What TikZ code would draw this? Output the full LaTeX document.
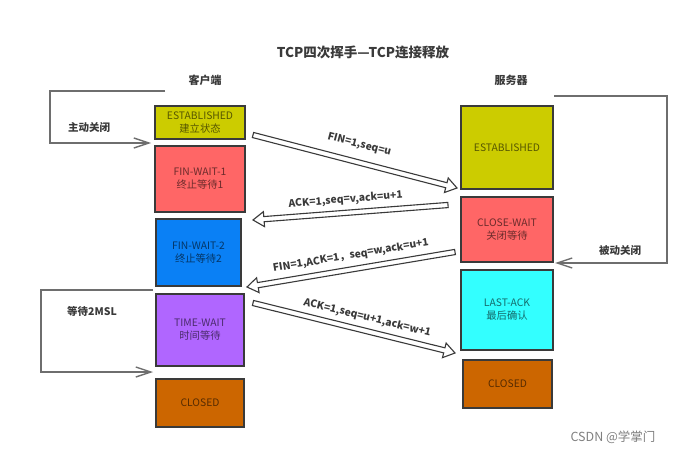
\documentclass[tikz,border=0pt]{standalone}
\usepackage{fontspec}
\setmainfont{Noto Sans CJK SC}
\usetikzlibrary{calc,arrows.meta}
\definecolor{cYel}{HTML}{CCCC00}
\definecolor{cRed}{HTML}{FF6666}
\definecolor{cBlue}{HTML}{0A80F5}
\definecolor{cPurp}{HTML}{B066FF}
\definecolor{cOrg}{HTML}{CC6600}
\definecolor{cCyan}{HTML}{33FFFF}
\definecolor{edge}{HTML}{3A3A3A}
\definecolor{brk}{HTML}{6E6E6E}
\tikzset{
  state/.style={draw=edge, line width=1.4pt, fill=#1, inner sep=0pt, align=center,
    text=#1!42!black, font=\fontsize{10.3}{13}\selectfont},
  harrow/.style={draw=edge, line width=1.1pt, fill=white, line join=miter},
  bracket/.style={draw=brk, line width=2pt, -{Straight Barb[length=15pt,width=10pt,line width=1.4pt]}},
  msg/.style={font=\bfseries\fontsize{10.3}{12}\selectfont, text=edge, sloped, inner sep=0pt},
  side/.style={font=\bfseries\fontsize{10.5}{12}\selectfont, text=edge},
}
\newcommand\hollowarrow[2]{%
  \coordinate (#1H) at ($(#2)!11pt!(#1)$);
  \draw[harrow] ($(#1)!2.6pt!90:(#2)$) -- ($(#1H)!2.6pt!90:(#2)$) -- ($(#1H)!7.5pt!90:(#2)$)
    -- (#2) -- ($(#1H)!7.5pt!-90:(#2)$) -- ($(#1H)!2.6pt!-90:(#2)$) -- ($(#1)!2.6pt!-90:(#2)$) -- cycle;
}
\begin{document}
\begin{tikzpicture}[x=1pt,y=-1pt]
\useasboundingbox (0,0) rectangle (678,452);
\fill[white] (0,0) rectangle (678,452);

% title and column headers
\node[font=\bfseries\fontsize{13.5}{15}\selectfont, text=edge] (title) at (363,52) {TCP四次挥手—TCP连接释放};
\node[font=\bfseries\fontsize{11}{13}\selectfont, text=edge] (client) at (205,80) {客户端};
\node[font=\bfseries\fontsize{11}{13}\selectfont, text=edge] (server) at (511,80) {服务器};

% client states
\node[state=cYel, minimum width=90pt, minimum height=33pt] (c1) at (200,122.5) {ESTABLISHED\\建立状态};
\node[state=cRed, minimum width=90pt, minimum height=66pt] (c2) at (200,179) {FIN-WAIT-1\\终止等待1};
\node[state=cBlue, minimum width=85pt, minimum height=67pt] (c3) at (198.5,252.5) {FIN-WAIT-2\\终止等待2};
\node[state=cPurp, minimum width=88pt, minimum height=72pt] (c4) at (200,330) {TIME-WAIT\\时间等待};
\node[state=cOrg, minimum width=88pt, minimum height=48pt] (c5) at (200,403) {CLOSED};

% server states
\node[state=cYel, minimum width=92pt, minimum height=83pt] (s1) at (507,147.5) {ESTABLISHED};
\node[state=cRed, minimum width=92pt, minimum height=65pt] (s2) at (507,229.5) {CLOSE-WAIT\\关闭等待};
\node[state=cCyan, minimum width=92pt, minimum height=80pt] (s3) at (507,310) {LAST-ACK\\最后确认};
\node[state=cOrg, minimum width=89pt, minimum height=48pt] (s4) at (507.5,384) {CLOSED};

% brackets
\coordinate (b1s) at (165,91);
\coordinate (b1c1) at (50,91);
\coordinate (b1c2) at (50,143);
\coordinate (b1e) at (151,143);
\draw[bracket] (b1s) -- (b1c1) -- (b1c2) -- (b1e);
\node[side] (lab1) at (89,127) {主动关闭};

\coordinate (b2s) at (554,96);
\coordinate (b2c1) at (667,96);
\coordinate (b2c2) at (667,263);
\coordinate (b2e) at (555,263);
\draw[bracket] (b2s) -- (b2c1) -- (b2c2) -- (b2e);
\node[side] (lab2) at (620,250) {被动关闭};

\coordinate (b3s) at (153,290);
\coordinate (b3c1) at (41,290);
\coordinate (b3c2) at (41,372);
\coordinate (b3e) at (153,372);
\draw[bracket] (b3s) -- (b3c1) -- (b3c2) -- (b3e);
\node[side] (lab3) at (92,311) {等待2MSL};

% messages
\coordinate (m1a) at (253,135);  \coordinate (m1b) at (457,188);
\coordinate (m2a) at (448,205);  \coordinate (m2b) at (253,220);
\coordinate (m3a) at (455,252);  \coordinate (m3b) at (247,287);
\coordinate (m4a) at (253,303);  \coordinate (m4b) at (455,353);
\hollowarrow{m1a}{m1b}
\hollowarrow{m2a}{m2b}
\hollowarrow{m3a}{m3b}
\hollowarrow{m4a}{m4b}
\path (m1a) -- (m1b) node[msg, pos=0.5, above=12pt] (t1) {FIN=1,seq=u};
\path (m2a) -- (m2b) node[msg, pos=0.52, above=7.5pt] (t2) {ACK=1,seq=v,ack=u+1};
\path (m3a) -- (m3b) node[msg, pos=0.49, above=8pt] (t3) {FIN=1,ACK=1，seq=w,ack=u+1};
\path (m4a) -- (m4b) node[msg, pos=0.55, above=7.5pt] (t4) {ACK=1,seq=u+1,ack=w+1};

% watermark
\node[font=\fontsize{12.5}{14}\selectfont, text=black!50] (wm) at (613,437) {CSDN @学掌门};
\end{tikzpicture}
\end{document}
